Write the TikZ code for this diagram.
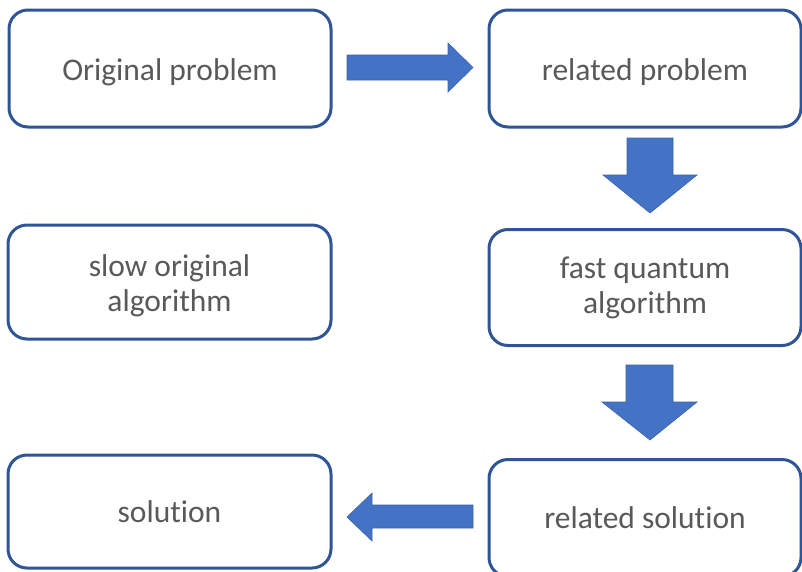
\documentclass[tikz,border=0pt]{standalone}
\usepackage{fontspec}
\setmainfont{Carlito}[RawFeature=-liga]
\newcommand{\lowr}[1]{\raisebox{0pt}[\dimexpr\height+7pt\relax]{#1}}
\begin{document}
\begin{tikzpicture}[x=1pt,y=-1pt,
  box/.style={draw=boxblue, line width=3pt, rounded corners=19pt, fill=white,
    text=textgray, font=\fontsize{31.5}{35}\selectfont, align=center, inner sep=0pt},
  blockarrow/.style={fill=arrowblue, draw=arrowedge, line width=0.6pt, line join=miter}]
\definecolor{boxblue}{HTML}{2F5597}
\definecolor{arrowblue}{HTML}{4472C4}
\definecolor{arrowedge}{HTML}{3A62AA}
\definecolor{textgray}{HTML}{595959}
\useasboundingbox (0,0) rectangle (802,571);
\node[box, minimum width=322pt, minimum height=117pt] (orig) at (170,68.5) {\lowr{Original problem}};
\node[box, minimum width=312pt, minimum height=117pt] (rel) at (645,68.5) {\lowr{related problem}};
\node[box, minimum width=323pt, minimum height=114pt] (slow) at (169.5,282) {\lowr{slow original}\\algorithm};
\node[box, minimum width=312pt, minimum height=116pt] (fast) at (645,287.5) {fast quantum\\algorithm};
\node[box, minimum width=323pt, minimum height=113pt] (sol) at (169.5,511.5) {solution};
\node[box, minimum width=312pt, minimum height=117pt] (relsol) at (645,518) {related solution};
% block arrows
\draw[blockarrow] (347,55) -- (448,55) -- (448,43) -- (473,67.5) -- (448,92) -- (448,80) -- (347,80) -- cycle;
\draw[blockarrow] (627,138) -- (673,138) -- (673,175) -- (697,175) -- (650,213) -- (603,175) -- (627,175) -- cycle;
\draw[blockarrow] (626,365) -- (673,365) -- (673,402) -- (697,402) -- (650,440) -- (602,402) -- (626,402) -- cycle;
\draw[blockarrow] (473,505) -- (372,505) -- (372,493) -- (347,517) -- (372,541) -- (372,528) -- (473,528) -- cycle;
\end{tikzpicture}
\end{document}
